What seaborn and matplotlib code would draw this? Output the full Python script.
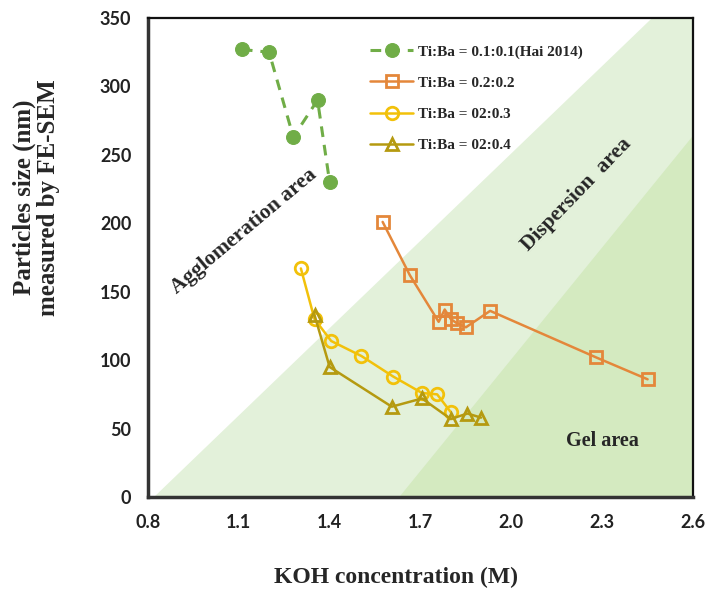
import numpy as np
import matplotlib
matplotlib.use("Agg")
import matplotlib.pyplot as plt
import seaborn as sns

# KOH concentration (M) vs particle size (nm)
koh_01 = [1.11, 1.20, 1.28, 1.36, 1.40]
size_01 = [327, 325, 263, 290, 230]

koh_02 = [1.575, 1.665, 1.76, 1.78, 1.80, 1.82, 1.85, 1.93, 2.28, 2.45]
size_02 = [201, 162, 128, 137, 130, 127, 124, 136, 102, 86]

koh_03 = [1.305, 1.35, 1.405, 1.505, 1.61, 1.705, 1.755, 1.80]
size_03 = [167, 130, 114, 103, 88, 76, 75, 62]

koh_04 = [1.35, 1.40, 1.605, 1.705, 1.80, 1.855, 1.90]
size_04 = [133, 95, 66, 72, 57, 61, 58]

labels = ["Ti:Ba = 0.1:0.1(Hai 2014)", "Ti:Ba = 0.2:0.2",
          "Ti:Ba = 02:0.3", "Ti:Ba = 02:0.4"]
colors = ["#70AD47", "#E4873A", "#F2C10A", "#B59A10"]

# region boundaries
light_x = [0.82, 2.465, 2.6, 2.6]
light_y = [0, 350, 350, 0]
dark_x = [1.63, 2.6, 2.6]
dark_y = [0, 264, 0]

sns.set_theme(style="white")
plt.rcParams["font.family"] = ["Liberation Serif", "DejaVu Sans"]

fig = plt.figure(figsize=(7.06, 5.94), dpi=100)
ax = fig.add_axes([0.2096, 0.1633, 0.772, 0.8064])

ax.fill(light_x, light_y, color="#E3F1DA", lw=0, zorder=0)
ax.fill(dark_x, dark_y, color="#D4EAC0", lw=0, zorder=0)

sns.lineplot(x=koh_01, y=size_01, ax=ax, color=colors[0], label=labels[0],
             marker="o", markersize=10, markeredgecolor=colors[0],
             linewidth=2.2, linestyle=(0, (3.5, 2.6)), errorbar=None)
sns.lineplot(x=koh_02, y=size_02, ax=ax, color=colors[1], label=labels[1],
             marker="s", markersize=9, markerfacecolor="none",
             markeredgecolor=colors[1], markeredgewidth=2,
             linewidth=1.8, errorbar=None)
sns.lineplot(x=koh_03, y=size_03, ax=ax, color=colors[2], label=labels[2],
             marker="o", markersize=9, markerfacecolor="none",
             markeredgecolor=colors[2], markeredgewidth=2,
             linewidth=1.8, errorbar=None)
sns.lineplot(x=koh_04, y=size_04, ax=ax, color=colors[3], label=labels[3],
             marker="^", markersize=9, markerfacecolor="none",
             markeredgecolor=colors[3], markeredgewidth=2,
             linewidth=1.8, errorbar=None)

ax.set_xlim(0.8, 2.6)
ax.set_ylim(0, 350)
ax.set_xticks([0.8, 1.1, 1.4, 1.7, 2.0, 2.3, 2.6])
ax.set_yticks(range(0, 351, 50))
ax.set_xticklabels(["0.8", "1.1", "1.4", "1.7", "2.0", "2.3", "2.6"])
for lab in ax.get_xticklabels() + ax.get_yticklabels():
    lab.set_family(["Lato", "DejaVu Sans"])
    lab.set_fontweight("bold")
    lab.set_fontsize(13)
    lab.set_color("#222222")
ax.tick_params(direction="in", length=4, color="#b0b0b0", pad=12)

for side in ["left", "bottom"]:
    ax.spines[side].set_color("#333333")
    ax.spines[side].set_linewidth(2.5)
for side in ["top", "right"]:
    ax.spines[side].set_color("#111111")
    ax.spines[side].set_linewidth(1.6)

ax.set_xlabel("KOH concentration (M)", fontsize=17, fontweight="bold")
ax.set_ylabel("Particles size (nm)\nmeasured by FE-SEM", fontsize=18,
              fontweight="bold", linespacing=1.05)
ax.xaxis.set_label_coords(0.455, -0.145)
ax.yaxis.set_label_coords(-0.161, 0.625)

ax.text(1.118, 194, "Agglomeration area", rotation=40, fontsize=15.5,
        fontweight="bold", ha="center", va="center")
ax.text(2.216, 221, "Dispersion  area", rotation=46, fontsize=15.5,
        fontweight="bold", ha="center", va="center")
ax.text(2.30, 41, "Gel area", fontsize=14.5, fontweight="bold",
        ha="center", va="center")

leg = ax.legend(loc="upper left", bbox_to_anchor=(0.505, 0.948),
                bbox_transform=fig.transFigure, frameon=False,
                fontsize=11, handlelength=2.8, handletextpad=0.3,
                labelspacing=1.15)
for t in leg.get_texts():
    t.set_fontweight("bold")

fig.savefig("out.png", dpi=100)
